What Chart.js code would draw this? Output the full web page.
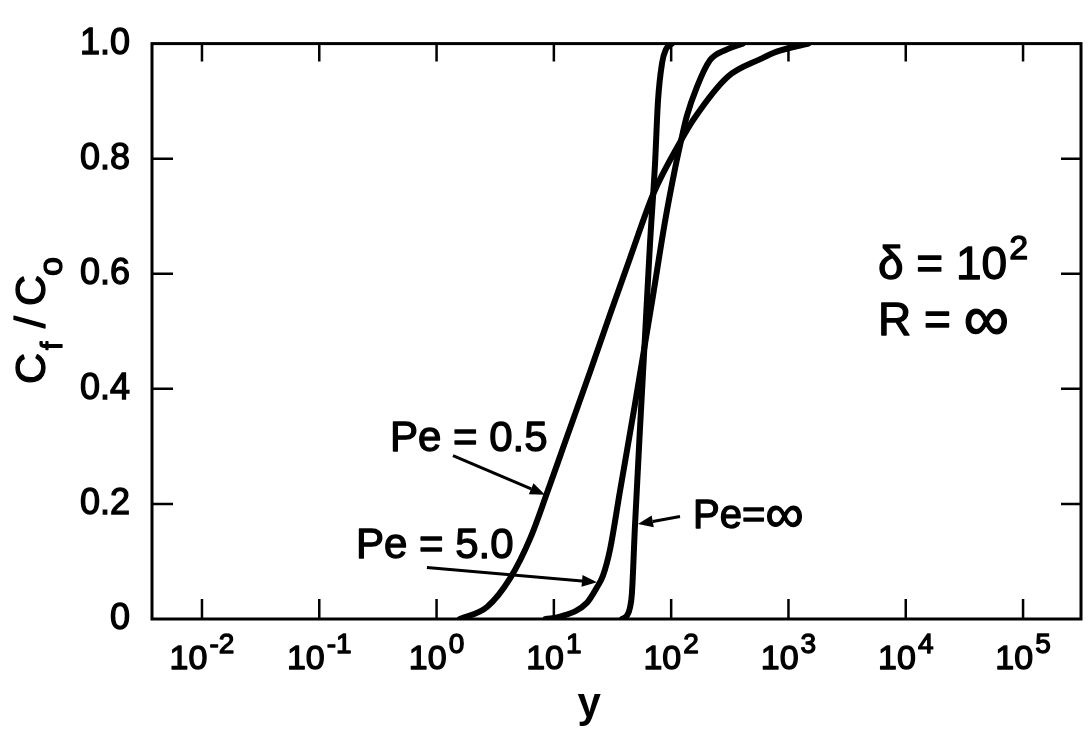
<!DOCTYPE html>
<html>
<head>
<meta charset="utf-8">
<title>Cf/Co breakthrough curves</title>
<script src="https://cdn.jsdelivr.net/npm/chart.js@4.4.1/dist/chart.umd.min.js"></script>
<style>
  html, body { margin: 0; padding: 0; background: #fff; }
  #wrap { width: 1088px; height: 734px; }
</style>
</head>
<body>
<div id="wrap"><canvas id="chart"></canvas></div>
<script>
const FONT = '"Liberation Sans", Arial, sans-serif';

// Cf/Co against y for three Peclet numbers (delta = 10^2, R = infinity)
const pe05X = [1.58, 2.69, 4.27, 6.31, 8.71, 12.0, 20.4, 30.2, 44.7, 70.8, 120, 155, 302, 575, 794, 1480];
const pe05Y = [0, 0.021, 0.072, 0.141, 0.218, 0.298, 0.43, 0.53, 0.628, 0.74, 0.83, 0.868, 0.942, 0.973, 0.986, 1.0];

const pe5X = [8.5, 11.3, 19.1, 23.3, 26.2, 30.2, 36.6, 49, 68.5, 88.5, 108, 119, 136, 166, 214, 299, 407];
const pe5Y = [0, 0.004, 0.028, 0.055, 0.075, 0.122, 0.222, 0.372, 0.55, 0.69, 0.783, 0.823, 0.874, 0.925, 0.971, 0.99, 1.0];

const peInfX = [38.1, 42.0, 44.6, 46.3, 49.1, 54.2, 59.8, 65.9, 72.8, 77.2, 83.6, 90.2, 101.6];
const peInfY = [0, 0.006, 0.02, 0.045, 0.16, 0.33, 0.49, 0.65, 0.79, 0.9, 0.966, 0.99, 1.0];

const xTickExps = [-2, -1, 0, 1, 2, 3, 4, 5];
const yTickValues = [0, 0.2, 0.4, 0.6, 0.8, 1.0];

const toPoints = (xs, ys) => xs.map((x, i) => ({ x: x, y: ys[i] }));

// lettering is drawn filled and lightly stroked so it reads heavier
function ink(ctx, text, x, y) {
  ctx.fillText(text, x, y);
  ctx.strokeText(text, x, y);
}

// draw a row of text pieces with their own size and baseline shift
function drawRuns(ctx, x, y, runs, weight) {
  let cx = x;
  runs.forEach(r => {
    ctx.font = (weight || 'normal') + ' ' + r.size + 'px ' + FONT;
    ink(ctx, r.text, cx, y + (r.dy || 0));
    cx += ctx.measureText(r.text).width + (r.gap || 0);
  });
}

function drawArrow(ctx, x0, y0, x1, y1) {
  const a = Math.atan2(y1 - y0, x1 - x0);
  const head = 15, half = 6;
  const bx = x1 - head * Math.cos(a), by = y1 - head * Math.sin(a);
  ctx.beginPath();
  ctx.moveTo(x0, y0);
  ctx.lineTo(bx, by);
  ctx.stroke();
  ctx.beginPath();
  ctx.moveTo(x1, y1);
  ctx.lineTo(bx + half * Math.sin(a), by - half * Math.cos(a));
  ctx.lineTo(bx - half * Math.sin(a), by + half * Math.cos(a));
  ctx.closePath();
  ctx.fill();
}

// curve labels, arrows go from (ax0, ay0) to the curve at (ax1, ay1)
const notes = [
  { x: 0.401, y: 0.292, runs: [{ text: 'Pe = 0.5', size: 42 }], arrow: [1.38, 0.284, 8.4, 0.216] },
  { x: 0.2056, y: 0.1066, runs: [{ text: 'Pe = 5.0', size: 42 }], arrow: [0.828, 0.0895, 23.3, 0.064] },
  { x: 153.5, y: 0.158, runs: [{ text: 'Pe=', size: 40 }, { text: '\u221E', size: 54, dy: 4 }], arrow: [119, 0.178, 52.1, 0.165] },
  { x: 5794, y: 0.591, runs: [{ text: '\u03B4 = 10', size: 46, gap: 2 }, { text: '2', size: 34, dy: -20 }] },
  { x: 5794, y: 0.494, runs: [{ text: 'R = ', size: 46 }, { text: '\u221E', size: 64, dy: 5 }] }
];

const framePlugin = {
  id: 'frame',
  afterDraw(chart) {
    const { ctx, chartArea: a, scales: { x, y } } = chart;
    ctx.save();
    ctx.strokeStyle = '#000';
    ctx.fillStyle = '#000';

    // box and inward ticks
    ctx.lineWidth = 3;
    ctx.strokeRect(a.left, a.top, a.right - a.left, a.bottom - a.top);
    ctx.lineWidth = 2.5;
    ctx.beginPath();
    xTickExps.forEach(e => {
      const px = x.getPixelForValue(Math.pow(10, e));
      ctx.moveTo(px, a.bottom); ctx.lineTo(px, a.bottom - 20);
      ctx.moveTo(px, a.top); ctx.lineTo(px, a.top + 18);
    });
    yTickValues.filter(v => v > 0 && v < 1).forEach(v => {
      const py = y.getPixelForValue(v);
      ctx.moveTo(a.left, py); ctx.lineTo(a.left + 21, py);
      ctx.moveTo(a.right, py); ctx.lineTo(a.right - 20, py);
    });
    ctx.stroke();

    ctx.lineWidth = 1.3;
    ctx.lineJoin = 'round';

    // decade labels 10^n
    ctx.textBaseline = 'alphabetic';
    ctx.textAlign = 'left';
    xTickExps.forEach(e => {
      const px = x.getPixelForValue(Math.pow(10, e));
      const ex = e < 0 ? '-' + Math.abs(e) : String(e);
      ctx.font = '34px ' + FONT;
      const wb = ctx.measureText('10').width;
      ctx.font = '28px ' + FONT;
      const we = ctx.measureText(ex).width;
      const left = px - (wb + we + 2) / 2;
      drawRuns(ctx, left, a.bottom + 50, [
        { text: '10', size: 34, gap: 2 },
        { text: ex, size: 28, dy: -16 }
      ]);
    });

    // x axis title
    ctx.textAlign = 'center';
    ctx.font = 'bold 42px ' + FONT;
    ctx.fillText('y', x.getPixelForValue(20), 717);

    // y axis title Cf/Co, read bottom to top
    ctx.save();
    ctx.translate(45, 384);
    ctx.rotate(-Math.PI / 2);
    ctx.textAlign = 'left';
    ctx.font = '43px ' + FONT;
    ink(ctx, 'C', 0, 0);
    ctx.font = '30px ' + FONT;
    ink(ctx, 'f', 34, 17);
    ctx.font = '43px ' + FONT;
    ink(ctx, '/', 56, 0);
    ink(ctx, 'C', 78, 0);
    ctx.font = '34px ' + FONT;
    ink(ctx, 'o', 108, 17);
    ctx.restore();

    // curve labels and arrows
    ctx.textAlign = 'left';
    notes.forEach(n => {
      ctx.lineWidth = 1.3;
      drawRuns(ctx, x.getPixelForValue(n.x), y.getPixelForValue(n.y), n.runs);
      if (n.arrow) {
        const [x0, y0, x1, y1] = n.arrow;
        ctx.lineWidth = 3;
        drawArrow(ctx, x.getPixelForValue(x0), y.getPixelForValue(y0),
                  x.getPixelForValue(x1), y.getPixelForValue(y1));
      }
    });
    ctx.restore();
  }
};

Chart.defaults.font.family = FONT;
Chart.defaults.color = '#000';

const curveStyle = {
  showLine: true,
  borderColor: '#000',
  borderWidth: 6,
  pointRadius: 0,
  cubicInterpolationMode: 'monotone',
  borderCapStyle: 'round',
  borderJoinStyle: 'round',
  fill: false
};

new Chart(document.getElementById('chart'), {
  type: 'scatter',
  data: {
    datasets: [
      Object.assign({ label: 'Pe = 0.5', data: toPoints(pe05X, pe05Y) }, curveStyle),
      Object.assign({ label: 'Pe = 5.0', data: toPoints(pe5X, pe5Y) }, curveStyle),
      Object.assign({ label: 'Pe = \u221E', data: toPoints(peInfX, peInfY) }, curveStyle)
    ]
  },
  options: {
    responsive: true,
    maintainAspectRatio: false,
    animation: false,
    layout: { padding: { top: 32, right: 7, left: 0, bottom: 0 } },
    plugins: {
      legend: { display: false },
      tooltip: { enabled: false }
    },
    scales: {
      x: {
        type: 'logarithmic',
        min: Math.pow(10, -2.426),
        max: Math.pow(10, 5.494),
        grid: { display: false, drawTicks: false },
        border: { display: false },
        ticks: { display: false },
        afterFit(scale) { scale.height = 115; }
      },
      y: {
        type: 'linear',
        min: 0,
        max: 1,
        grid: { display: false, drawTicks: false },
        border: { display: false },
        ticks: {
          stepSize: 0.2,
          padding: 22,
          font: { size: 36 },
          textStrokeColor: '#000',
          textStrokeWidth: 1.3,
          callback: v => (v === 0 ? '0' : v.toFixed(1))
        },
        afterFit(scale) { scale.width = 152; }
      }
    }
  },
  plugins: [framePlugin]
});
</script>
</body>
</html>
